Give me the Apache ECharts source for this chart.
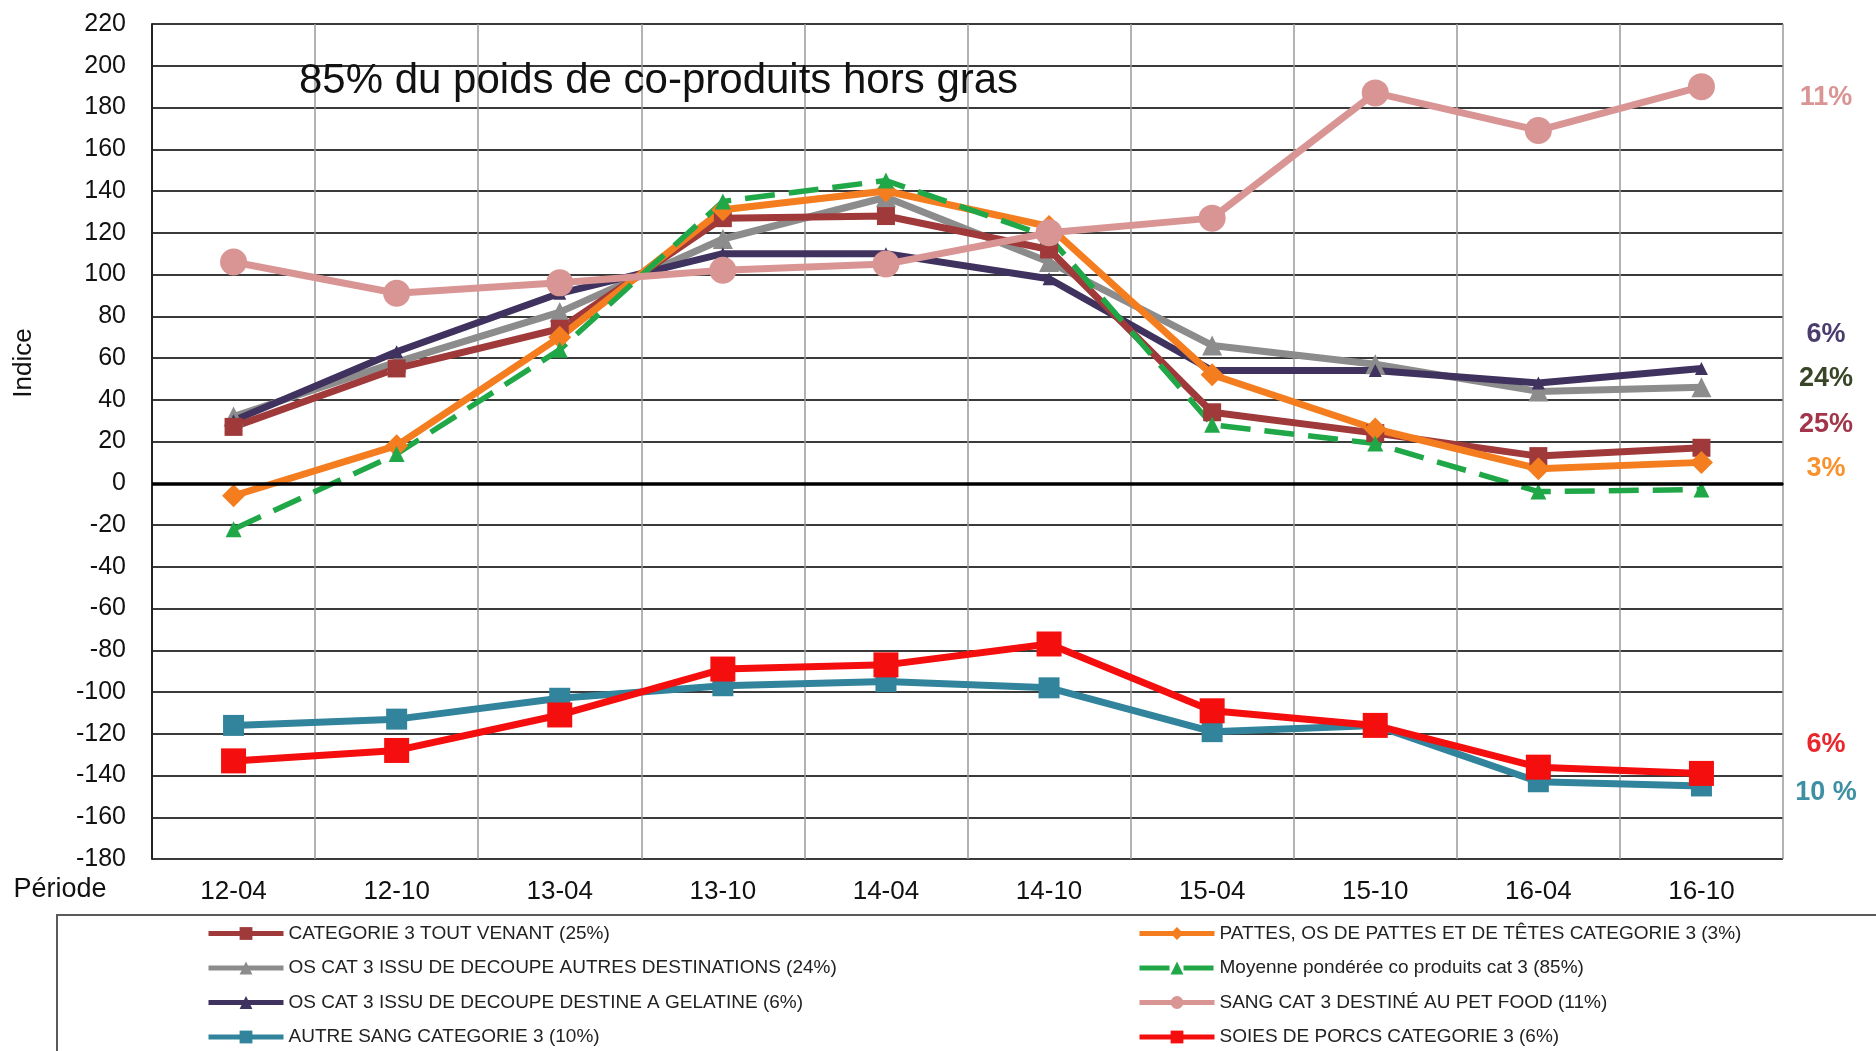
<!DOCTYPE html>
<html>
<head>
<meta charset="utf-8">
<script src="https://cdn.jsdelivr.net/npm/echarts@6/dist/echarts.min.js"></script>
<style>
  html, body { margin: 0; padding: 0; background: #fff; }
  #main { width: 1876px; height: 1051px; }
</style>
</head>
<body>
<div id="main"></div>
<script>
var FONT = '"Liberation Sans", Arial, sans-serif';

// periodes
var periodes = ['12-04', '12-10', '13-04', '13-10', '14-04', '14-10', '15-04', '15-10', '16-04', '16-10'];

// indices
var toutVenant  = [27, 55, 74, 127, 128, 112, 34, 24, 13, 17];
var osAutres    = [32, 58, 82, 117, 137, 106, 66, 57, 44, 46];
var osGelatine  = [30, 63, 91, 110, 110, 98, 54, 54, 48, 55];
var autreSang   = [-116, -113, -103, -97, -95, -98, -119, -116, -143, -145];
var pattes      = [-6, 18, 70, 131, 140, 123, 52, 26, 7, 10];
var moyenne     = [-22, 14, 64, 135, 145, 118, 28, 19, -4, -3];
var sangPetFood = [106, 91, 96, 102, 105, 120, 127, 187, 169, 190];
var soies       = [-133, -128, -111, -89, -87, -77, -109, -116, -136, -139];

var noms = {
    toutVenant: 'CATEGORIE 3 TOUT VENANT (25%)',
    osAutres: 'OS CAT 3 ISSU DE DECOUPE AUTRES DESTINATIONS (24%)',
    osGelatine: 'OS CAT 3 ISSU DE DECOUPE DESTINE A GELATINE (6%)',
    autreSang: 'AUTRE SANG CATEGORIE 3 (10%)',
    pattes: 'PATTES, OS DE PATTES ET DE TÊTES CATEGORIE 3 (3%)',
    moyenne: 'Moyenne pondérée co produits cat 3 (85%)',
    sangPetFood: 'SANG CAT 3 DESTINÉ AU PET FOOD (11%)',
    soies: 'SOIES DE PORCS CATEGORIE 3 (6%)'
};

// etiquettes de droite (poids)
var poidsTexte  = ['11%', '6%', '24%', '25%', '3%', '6%', '10 %'];
var poidsNiveau = [185, 71, 50, 28, 7, -125, -148];
var poidsCouleur = ['#d99594', '#4a3d6e', '#384526', '#a3354a', '#f7922e', '#e8262b', '#3d8fa3'];

var chart = echarts.init(document.getElementById('main'));

function serie(name, data, color, symbol, size, extra) {
    var s = {
        name: name,
        type: 'line',
        data: data,
        symbol: symbol,
        symbolSize: size,
        color: color,
        lineStyle: { color: color, width: 7 },
        itemStyle: { color: color },
        emphasis: { disabled: true }
    };
    if (extra) {
        for (var k in extra) s[k] = extra[k];
    }
    return s;
}

var legendCommun = {
    orient: 'vertical', top: 924, height: 126, padding: 0,
    itemWidth: 75, itemHeight: 16, itemGap: 15.5,
    lineStyle: { width: 5 },
    textStyle: { fontSize: 19, color: '#222', fontFamily: FONT }
};

var option = {
    animation: false,
    backgroundColor: '#fff',
    textStyle: { fontFamily: FONT },
    grid: { left: 152, right: 93, top: 24, bottom: 192 },
    xAxis: {
        type: 'category',
        data: periodes,
        boundaryGap: true,
        axisLine: { lineStyle: { color: '#333', width: 2 } },
        axisTick: { show: false },
        axisLabel: { color: '#111', fontSize: 26, margin: 20, fontFamily: FONT },
        splitLine: { show: true, interval: 0, lineStyle: { color: '#9a9a9a', width: 1.5 } }
    },
    yAxis: {
        type: 'value',
        min: -180,
        max: 220,
        interval: 20,
        axisLine: { show: true, lineStyle: { color: '#222', width: 2 } },
        axisTick: { show: false },
        axisLabel: { color: '#111', fontSize: 25, margin: 26, fontFamily: FONT },
        splitLine: { lineStyle: { color: '#3a3a3a', width: 2 } }
    },
    legend: [
        Object.assign({ left: 206, data: [noms.toutVenant, noms.osAutres, noms.osGelatine, noms.autreSang] }, legendCommun),
        Object.assign({ left: 1137, data: [noms.pattes, noms.moyenne, noms.sangPetFood, noms.soies] }, legendCommun)
    ],
    series: [
        {
            type: 'line', data: [], z: 1, silent: true,
            markLine: {
                silent: true, symbol: 'none', label: { show: false },
                lineStyle: { color: '#000', width: 3.5, type: 'solid' },
                data: [{ yAxis: 0 }]
            }
        },
        serie(noms.autreSang, autreSang, '#31849b', 'rect', 21),
        serie(noms.osAutres, osAutres, '#8c8c8c', 'triangle', 20),
        serie(noms.osGelatine, osGelatine, '#40325e', 'triangle', 13),
        serie(noms.toutVenant, toutVenant, '#a0393a', 'rect', 18),
        serie(noms.pattes, pattes, '#f47d20', 'diamond', 23),
        serie(noms.moyenne, moyenne, '#20a848', 'triangle', 16, {
            lineStyle: { color: '#20a848', width: 5.5, type: [30, 14] }
        }),
        serie(noms.sangPetFood, sangPetFood, '#d99594', 'circle', 27),
        serie(noms.soies, soies, '#f50e0e', 'rect', 25)
    ]
};

chart.setOption(option);

// titre, libelles et cadre de legende
var graphics = [
    {
        type: 'text', left: 299, top: 60,
        style: { text: '85% du poids de co-produits hors gras', font: '42px ' + FONT, fill: '#111' }
    },
    {
        type: 'text', x: 24, y: 363, rotation: Math.PI / 2,
        style: { text: 'Indice', font: '26px ' + FONT, fill: '#111', align: 'center', verticalAlign: 'middle' }
    },
    {
        type: 'text', x: 60, y: 890,
        style: { text: 'Période', font: '27px ' + FONT, fill: '#111', align: 'center', verticalAlign: 'middle' }
    },
    {
        type: 'rect', z: -1,
        shape: { x: 57, y: 915, width: 1840, height: 160 },
        style: { fill: 'none', stroke: '#5a5a5a', lineWidth: 2 }
    }
];

for (var i = 0; i < poidsTexte.length; i++) {
    graphics.push({
        type: 'text',
        x: 1826,
        y: chart.convertToPixel({ yAxisIndex: 0 }, poidsNiveau[i]),
        style: {
            text: poidsTexte[i],
            font: 'bold 27px ' + FONT,
            fill: poidsCouleur[i],
            align: 'center',
            verticalAlign: 'middle'
        }
    });
}

chart.setOption({ graphic: graphics });
</script>
</body>
</html>
